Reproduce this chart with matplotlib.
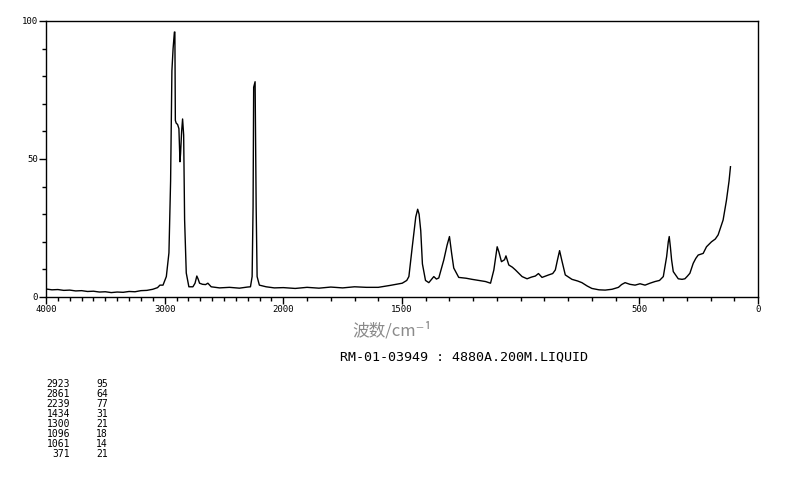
import numpy as np
import matplotlib
matplotlib.use("Agg")
import matplotlib.pyplot as plt
from matplotlib.ticker import FixedLocator, FixedFormatter

# --- data ---
wavenumber = [4000, 3950, 3900, 3850, 3800, 3750, 3700, 3650, 3600, 3550, 3500, 3450,
              3400, 3350, 3300, 3250, 3200, 3150, 3100, 3060, 3040, 3014, 2986, 2964,
              2950, 2939, 2929, 2918, 2914, 2910, 2903, 2891, 2880, 2871, 2866, 2857,
              2849, 2840, 2832, 2818, 2796, 2762, 2744, 2729, 2718, 2706, 2681, 2655,
              2636, 2608, 2538, 2454, 2370, 2303, 2277, 2263, 2255, 2250, 2238, 2229,
              2221, 2202, 2145, 2076, 2000, 1950, 1900, 1850, 1800, 1750, 1700, 1650,
              1600, 1550, 1499, 1480, 1471, 1457, 1442, 1434, 1428, 1421, 1414, 1401,
              1387, 1366, 1355, 1345, 1324, 1310, 1300, 1291, 1282, 1261, 1230, 1205,
              1175, 1148, 1127, 1113, 1099, 1092, 1081, 1068, 1062, 1050, 1035, 1022,
              994, 973, 955, 938, 925, 910, 882, 865, 854, 845, 836, 827, 812, 784,
              760, 742, 720, 700, 670, 644, 615, 588, 575, 560, 540, 518, 497, 476,
              455, 434, 415, 399, 385, 378, 374, 369, 364, 357, 336, 320, 308, 298,
              287, 273, 262, 252, 231, 217, 196, 180, 168, 147, 133, 122, 116]
intensity = [2.9, 2.6, 2.7, 2.4, 2.5, 2.2, 2.3, 2.0, 2.1, 1.8, 1.9, 1.6,
             1.8, 1.7, 2.0, 1.9, 2.3, 2.4, 2.8, 3.4, 4.3, 4.3, 7.4, 16,
             42, 82, 90, 96, 96, 64, 63, 62.5, 61, 49, 52, 60,
             64.5, 58.7, 28, 8.7, 3.7, 3.7, 5.0, 7.6, 6.5, 5.0, 4.6, 4.5,
             5.0, 3.7, 3.3, 3.5, 3.2, 3.6, 3.7, 7.4, 32.7, 76, 78, 32.7,
             7.4, 4.3, 3.7, 3.3, 3.4, 3.1, 3.5, 3.2, 3.6, 3.3, 3.7, 3.5,
             3.5, 4.2, 5.0, 6.0, 7.4, 18, 29, 31.8, 30, 24, 12, 6.0,
             5.2, 7.4, 6.5, 6.9, 13.4, 18.8, 21.9, 15.9, 10.5, 7.1, 6.8, 6.4,
             6.0, 5.6, 5.0, 9.8, 18.2, 16.4, 12.8, 13.5, 14.9, 11.6, 10.8, 9.8,
             7.4, 6.6, 7.2, 7.6, 8.5, 7.1, 8.0, 8.5, 9.8, 13.4, 16.8, 13.4, 8.0, 6.4,
             5.8, 5.2, 4.0, 3.1, 2.6, 2.5, 2.8, 3.5, 4.5, 5.2, 4.6, 4.3, 4.8, 4.3,
             5.0, 5.6, 6.0, 7.4, 14.6, 20, 21.9, 18, 13.4, 9.2, 6.6, 6.4, 6.6, 7.5,
             8.6, 12.2, 14.0, 15.2, 15.8, 18.2, 20, 21, 22.5, 27.9, 35, 42, 47.2]

x_tick_values = [4000, 3000, 2000, 1500, 500, 0]
x_tick_labels = ["4000", "3000", "2000", "1500", "500", "0"]
y_tick_values = [0, 50, 100]
y_tick_labels = ["0", "50", "100"]

peak_positions = ["2923", "2861", "2239", "1434", "1300", "1096", "1061", "371"]
peak_heights = ["95", "64", "77", "31", "21", "18", "14", "21"]

title_text = "RM-01-03949 : 4880A.200M.LIQUID"
xlabel_text = "波数/cm⁻¹"

# piecewise axis: above 2000 cm-1 compressed by a factor of two
def fwd(w):
    w = np.asarray(w, dtype=float)
    return np.where(w > 2000, 2000 + (w - 2000) / 2.0, w)

def inv(u):
    u = np.asarray(u, dtype=float)
    return np.where(u > 2000, 2000 + (u - 2000) * 2.0, u)

W, H = 794, 482
fig = plt.figure(figsize=(W / 100, H / 100), dpi=100)
ax = fig.add_axes([46 / W, 1 - 297 / H, (758 - 46) / W, (297 - 21) / H])
ax.set_xscale("function", functions=(fwd, inv))
ax.plot(wavenumber, intensity, color="black", lw=1.0)
ax.set_xlim(4000, 0)
ax.set_ylim(0, 100)

mono = "DejaVu Sans Mono"
ax.xaxis.set_major_locator(FixedLocator(x_tick_values))
ax.xaxis.set_major_formatter(FixedFormatter(x_tick_labels))
ax.xaxis.set_minor_locator(FixedLocator([v for v in range(0, 4001, 100) if v not in x_tick_values]))
ax.yaxis.set_major_locator(FixedLocator(y_tick_values))
ax.yaxis.set_major_formatter(FixedFormatter(y_tick_labels))
ax.yaxis.set_minor_locator(FixedLocator([v for v in range(0, 101, 10) if v not in y_tick_values]))
ax.tick_params(axis="both", which="major", direction="out", length=5, width=1,
               labelsize=6.5, pad=1)
ax.tick_params(axis="both", which="minor", direction="out", length=3, width=1)
for lab in ax.get_xticklabels() + ax.get_yticklabels():
    lab.set_family(mono)
for s in ax.spines.values():
    s.set_linewidth(1.0)

fig.text(392 / W, 1 - 331 / H, xlabel_text, ha="center", va="center",
         fontsize=12, color="#8a8a8a", family=["Noto Sans CJK SC", "DejaVu Sans"])
fig.text(340 / W, 1 - 357 / H, title_text, ha="left", va="center",
         fontsize=9.6, family=mono, color="black")

y0 = 384
for i, (p, h) in enumerate(zip(peak_positions, peak_heights)):
    yy = 1 - (y0 + i * 10) / H
    fig.text(70 / W, yy, p, ha="right", va="center", fontsize=7, family=mono)
    fig.text(108 / W, yy, h, ha="right", va="center", fontsize=7, family=mono)

fig.savefig("out.png", dpi=100)
